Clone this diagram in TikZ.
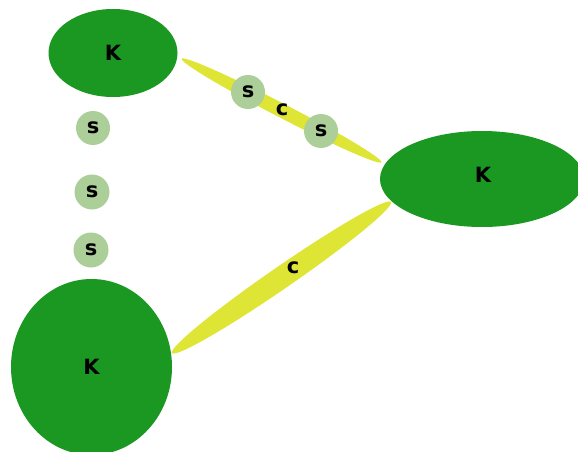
\documentclass[tikz,border=0pt]{standalone}
\usepackage{fontspec}
\setmainfont{DejaVu Sans}
\usetikzlibrary{shapes.geometric}
\definecolor{kgreen}{RGB}{27,152,34}
\definecolor{sgreen}{RGB}{172,206,152}
\definecolor{lensy}{RGB}{222,229,52}
\tikzset{
  kbox/.style={ellipse, fill=kgreen, draw=none, inner sep=0pt, font=\fontsize{21}{21}\selectfont\bfseries},
  sbox/.style={circle, fill=sgreen, draw=none, inner sep=0pt, minimum size=34pt, font=\fontsize{21}{21}\selectfont\bfseries},
  lbl/.style={inner sep=0pt, font=\fontsize{21}{21}\selectfont\bfseries},
  lens/.style={fill=lensy, draw=none}
}
\begin{document}
\begin{tikzpicture}[x=1pt,y=-1pt]
\useasboundingbox (0,0) rectangle (578,452);
% lens centres
\coordinate (l1c) at (281.5,110.5);
\coordinate (l2c) at (281.5,277.5);
\fill[lens, rotate around={-27.4:(l1c)}] (l1c) ellipse [x radius=112.5pt, y radius=7pt];
\fill[lens, rotate around={34.6:(l2c)}] (l2c) ellipse [x radius=133pt, y radius=11pt];
% K nodes
\node[kbox, minimum width=129pt, minimum height=88pt] (k1) at (113,53) {K};
\node[kbox, minimum width=204pt, minimum height=96pt] (k2) at (482,179) {};
\node[lbl] (k2t) at (483,175) {K};
\node[kbox, minimum width=161pt, minimum height=176pt] (k3) at (91.5,367) {K};
% s nodes on left
\node[sbox] (s1) at (93,128) {s};
\node[sbox, minimum size=35pt] (s2) at (92,192) {s};
\node[sbox, minimum size=35pt] (s3) at (91,250) {s};
% s and c on upper lens
\node[sbox] (s4) at (248,92) {s};
\node[lbl] (c1) at (282,110) {c};
\node[sbox] (s5) at (321,131) {s};
% c on lower lens
\node[lbl] (c2) at (293,268) {c};
\end{tikzpicture}
\end{document}
